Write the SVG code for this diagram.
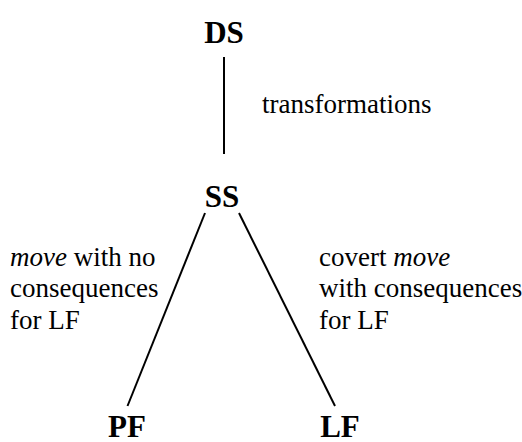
<svg xmlns="http://www.w3.org/2000/svg" width="522" height="442" viewBox="0 0 522 442">
<style>
.n{font-family:"Liberation Serif","Times New Roman",serif;font-weight:bold;font-size:31px;fill:#000;text-anchor:middle}
.l{font-family:"Liberation Serif","Times New Roman",serif;font-size:27px;fill:#000}
.i{font-style:italic}
.e{stroke:#000;stroke-width:2;fill:none}
</style>
<rect width="522" height="442" fill="#fff"/>
<g id="connectors">
<line class="e" x1="224" y1="57" x2="224" y2="154"/>
<line class="e" x1="205" y1="213" x2="127.5" y2="406"/>
<line class="e" x1="239" y1="213" x2="335" y2="406"/>
</g>
<g id="DS"><text class="n" x="224" y="43">DS</text></g>
<g id="SS"><text class="n" x="222" y="207">SS</text></g>
<g id="PF"><text class="n" x="127" y="437">PF</text></g>
<g id="LF"><text class="n" x="340" y="437">LF</text></g>
<g id="label-transformations"><text class="l" x="262" y="113">transformations</text></g>
<g id="label-left">
<text class="l" x="10" y="266"><tspan class="i">move</tspan> with no</text>
<text class="l" x="10" y="297">consequences</text>
<text class="l" x="10" y="329">for LF</text>
</g>
<g id="label-right">
<text class="l" x="319" y="266">covert <tspan class="i">move</tspan></text>
<text class="l" x="319" y="297">with consequences</text>
<text class="l" x="319" y="329">for LF</text>
</g>
</svg>
